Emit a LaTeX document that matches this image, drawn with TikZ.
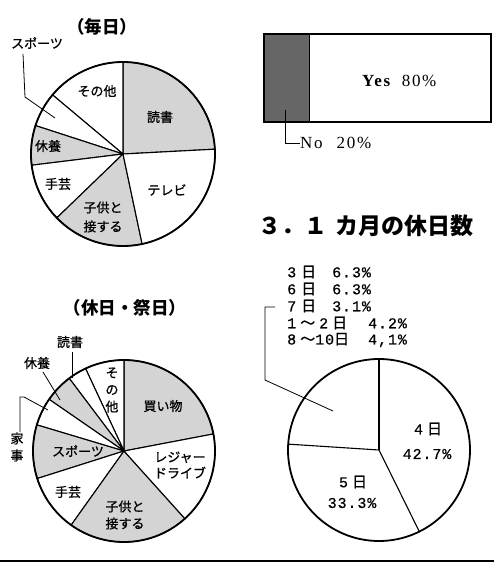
\documentclass[tikz,border=0pt]{standalone}
\usepackage{fontspec}
\newfontfamily\jp{Noto Sans CJK JP}
\newfontfamily\jpm[FakeBold=0.8]{Noto Sans CJK JP}
\newfontfamily\mono[LetterSpace=6,FakeBold=0.6]{Liberation Mono}
\newfontfamily\serifls[LetterSpace=10]{Liberation Serif}
\newcommand\pieslice[5]{\path[#5] (#1) -- ++(#3:#2) arc[start angle=#3, end angle=#4, radius=#2] -- cycle;}
\begin{document}
\begin{tikzpicture}[x=1pt,y=1pt,
  sl/.style={draw=black, line width=1.1pt},
  stip/.style={sl, fill=black!17},
  wht/.style={sl, fill=white},
  rim/.style={line width=1.8pt},
  lbl/.style={font=\jpm\fontsize{13}{17}\selectfont, inner sep=0pt, align=center},
  ttl/.style={font=\jp\bfseries\fontsize{17.5}{20}\selectfont, inner sep=0pt},
  leg/.style={font=\mono\fontsize{15}{15}\selectfont, inner sep=0pt, anchor=west},
  bartxt/.style={font=\serifls\fontsize{17}{18}\selectfont, inner sep=0pt, anchor=west},
  lead/.style={line width=0.8pt}
]
\useasboundingbox (0,0) rectangle (494,-564);

% ---------- pie 1 (毎日)
\coordinate (p1) at (123,-154);
\pieslice{p1}{92}{3}{90}{stip}
\pieslice{p1}{92}{90}{140}{wht}
\pieslice{p1}{92}{140}{162}{wht}
\pieslice{p1}{92}{162}{187}{stip}
\pieslice{p1}{92}{187}{224}{wht}
\pieslice{p1}{92}{224}{282}{stip}
\pieslice{p1}{92}{282}{363}{wht}
\draw[rim] (p1) circle[radius=92];
\node[ttl] (t1) at (102,-27) {（毎日）};
\node[lbl] (p1oth) at (97,-91) {その他};
\node[lbl] (p1read) at (160,-117) {読書};
\node[lbl] (p1tv) at (167,-190) {テレビ};
\node[lbl, font=\jpm\fontsize{13}{19}\selectfont] (p1kid) at (103,-217) {子供と\\接する};
\node[lbl] (p1craft) at (58,-184) {手芸};
\node[lbl] (p1rest) at (48,-146) {休養};
\node[lbl] (p1sport) at (37,-43) {スポーツ};
\coordinate (p1spA) at (23,-54);
\coordinate (p1spB) at (25,-97);
\coordinate (p1spC) at (55,-118);
\draw[lead] (p1spA) -- (p1spB) -- (p1spC);

% ---------- bar
\fill[black!60] (264,-34) rectangle (309,-122);
\draw[line width=1.5pt] (264,-34) rectangle (491,-122);
\draw[line width=1pt] (309,-34) -- (309,-122);
\node[bartxt] (yes) at (362,-81) {\textbf{Yes}\hspace{10pt}80\%};
\node[bartxt] (no) at (300,-143) {No\hspace{14pt}20\%};
\coordinate (noA) at (285,-110);
\draw[lead] (noA) |- (no.west);

% ---------- title
\node[font=\jp\bfseries\fontsize{23}{25}\selectfont, anchor=west, inner sep=0pt] (t3) at (258,-226) {３．１\hspace{8pt}カ月の休日数};

% ---------- legend
\node[leg] (l3) at (287,-272) {\makebox[45pt][l]{3\hspace{5pt}{\jpm 日}}6.3\%};
\node[leg] (l6) at (287,-289) {\makebox[45pt][l]{6\hspace{5pt}{\jpm 日}}6.3\%};
\node[leg] (l7) at (287,-306) {\makebox[45pt][l]{7\hspace{5pt}{\jpm 日}}3.1\%};
\node[leg] (l12) at (287,-323) {\makebox[81pt][l]{1\hspace{4pt}{\jpm ～}\hspace{4pt}2\hspace{4pt}{\jpm 日}}4.2\%};
\node[leg] (l810) at (287,-340) {\makebox[81pt][l]{8\hspace{4pt}{\jpm ～}10{\jpm 日}}4,1\%};
\coordinate (brA) at (275,-307);
\coordinate (brB) at (265,-307);
\coordinate (brC) at (265,-380);
\coordinate (brD) at (333,-411);
\draw[lead] (brA) -- (brB) -- (brC) -- (brD);

% ---------- pie 3
\coordinate (p3) at (379,-450);
\draw[sl] (p3) -- ++(90:91);
\draw[sl] (p3) -- ++(-63.7:91);
\draw[sl] (p3) -- ++(176.3:91);
\draw[rim] (p3) circle[radius=91];
\node[leg, anchor=center] (d4) at (428,-429) {4\hspace{4pt}{\jpm 日}};
\node[leg, anchor=center] (c4) at (427,-454) {42.7\%};
\node[leg, anchor=center] (d5) at (353,-482) {5\hspace{4pt}{\jpm 日}};
\node[leg, anchor=center] (c5) at (352,-503) {33.3\%};

% ---------- pie 2 (休日・祭日)
\coordinate (p2) at (124,-451);
\pieslice{p2}{91}{10.8}{90}{stip}
\pieslice{p2}{91}{90}{115}{wht}
\pieslice{p2}{91}{115}{127}{wht}
\pieslice{p2}{91}{127}{145.4}{stip}
\pieslice{p2}{91}{145.4}{163.3}{wht}
\pieslice{p2}{91}{163.3}{197.6}{stip}
\pieslice{p2}{91}{197.6}{234.5}{wht}
\pieslice{p2}{91}{234.5}{312}{stip}
\pieslice{p2}{91}{312}{370.8}{wht}
\draw[rim] (p2) circle[radius=91];
\node[ttl] (t2) at (125,-308) {（休日・祭日）};
\node[lbl] (p2oth) at (112,-390) {そ\\の\\他};
\node[lbl] (p2shop) at (163,-406) {買い物};
\node[lbl, font=\jpm\fontsize{13}{16}\selectfont] (p2leis) at (180,-465) {レジャー\\ドライブ};
\node[lbl] (p2kid) at (125,-515) {子供と\\接する};
\node[lbl] (p2craft) at (68,-492) {手芸};
\node[lbl] (p2sport) at (78,-451) {スポーツ};
\node[lbl] (p2house) at (17,-447) {家\\事};
\node[lbl] (p2rest) at (37,-363) {休養};
\node[lbl] (p2read) at (70,-342) {読書};
\coordinate (rdA) at (72,-352);
\coordinate (rdB) at (72,-378);
\draw[lead] (rdA) -- (rdB);
\coordinate (rsA) at (43,-372);
\coordinate (rsB) at (60,-400);
\draw[lead] (rsA) -- (rsB);
\coordinate (hsA) at (20,-432);
\coordinate (hsB) at (20,-397);
\coordinate (hsC) at (24,-397);
\coordinate (hsD) at (48,-410);
\draw[lead] (hsA) -- (hsB) -- (hsC) -- (hsD);

% ---------- bottom rule
\coordinate (ruleL) at (0,-561);
\coordinate (ruleR) at (494,-561);
\draw[line width=2pt] (ruleL) -- (ruleR);
\end{tikzpicture}
\end{document}
